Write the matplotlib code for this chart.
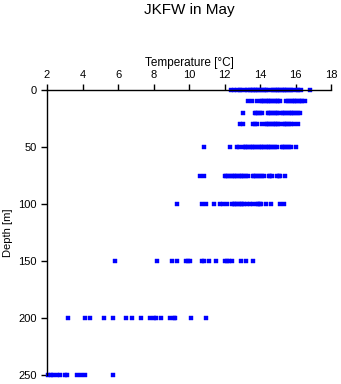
import matplotlib
matplotlib.use("Agg")
import matplotlib.pyplot as plt

# Depth levels [m]
depths = [0, 10, 20, 30, 50, 75, 100, 150, 200, 250]

# Temperatures [°C] observed at each depth
temps_0m = [12.38, 12.52, 12.72, 12.85, 12.95, 13.13, 13.24, 13.42, 13.52, 13.61, 13.70,
            13.80, 13.90, 14.00, 14.10, 14.20, 14.31, 14.42, 14.63, 14.73, 14.83, 14.93,
            15.03, 15.13, 15.23, 15.33, 15.43, 15.53, 15.63, 15.73, 15.88, 16.08, 16.16,
            16.32, 16.82]
temps_10m = [13.30, 13.53, 13.81, 14.03, 14.13, 14.23, 14.33, 14.43, 14.53, 14.63, 14.73,
             14.83, 14.93, 15.03, 15.14, 15.49, 15.59, 15.69, 15.79, 15.89, 15.99, 16.09,
             16.19, 16.29, 16.39, 16.54]
temps_20m = [13.03, 13.70, 13.80, 13.90, 14.00, 14.12, 14.43, 14.53, 14.63, 14.73, 14.83,
             14.93, 15.04, 15.22, 15.32, 15.42, 15.52, 15.62, 15.72, 15.82, 15.92, 16.02,
             16.12, 16.23]
temps_30m = [12.90, 13.03, 13.59, 13.70, 13.83, 14.09, 14.32, 14.42, 14.52, 14.62, 14.72,
             14.82, 14.92, 15.02, 15.12, 15.33, 15.43, 15.53, 15.63, 15.73, 15.90, 16.12]
temps_50m = [10.82, 12.30, 12.68, 12.81, 13.03, 13.13, 13.23, 13.33, 13.43, 13.53, 13.63,
             13.73, 13.83, 13.93, 14.03, 14.13, 14.23, 14.33, 14.43, 14.53, 14.63, 14.73,
             14.83, 14.93, 15.22, 15.32, 15.42, 15.52, 15.62, 15.73, 16.00]
temps_75m = [10.60, 10.84, 12.01, 12.11, 12.21, 12.31, 12.41, 12.51, 12.61, 12.71, 12.81,
             12.91, 13.01, 13.11, 13.21, 13.33, 13.59, 13.69, 13.79, 13.89, 13.99, 14.09,
             14.23, 14.49, 14.57, 14.68, 14.94, 15.05, 15.13, 15.40]
temps_100m = [9.32, 10.75, 10.93, 11.41, 11.75, 11.91, 12.15, 12.41, 12.51, 12.61, 12.71,
              12.81, 12.91, 13.01, 13.09, 13.29, 13.43, 13.58, 13.81, 13.91, 14.01, 14.08,
              14.33, 14.60, 15.10, 15.34]
temps_150m = [5.82, 8.22, 9.02, 9.30, 9.81, 9.92, 10.03, 10.71, 10.82, 11.10, 11.50, 12.03,
              12.15, 12.28, 12.43, 12.92, 13.21, 13.62]
temps_200m = [3.20, 4.13, 4.42, 5.22, 5.72, 6.44, 6.81, 7.32, 7.79, 8.01, 8.12, 8.42, 8.91,
              9.13, 9.20, 10.09, 10.93]
temps_250m = [2.05, 2.20, 2.35, 2.55, 2.75, 3.00, 3.15, 3.70, 3.90, 4.15, 5.72]

temps_by_depth = [temps_0m, temps_10m, temps_20m, temps_30m, temps_50m, temps_75m,
                  temps_100m, temps_150m, temps_200m, temps_250m]

x_ticks = [2, 4, 6, 8, 10, 12, 14, 16, 18]
y_ticks = [0, 50, 100, 150, 200, 250]

xs, ys = [], []
for d, ts in zip(depths, temps_by_depth):
    xs.extend(ts)
    ys.extend([d] * len(ts))

plt.rcParams['font.family'] = ['Liberation Sans', 'DejaVu Sans']

fig = plt.figure(figsize=(3.41, 3.84), dpi=100)
ax = fig.add_axes([47 / 341, 9 / 384, 284 / 341, 285 / 384])

ax.plot(xs, ys, linestyle='none', marker='s', markersize=2.6,
        markerfacecolor='#0000ff', markeredgecolor='#0000ff', markeredgewidth=0.3,
        antialiased=False, clip_on=False)

ax.set_xlim(2, 18)
ax.set_ylim(250, 0)
ax.set_xticks(x_ticks)
ax.set_yticks(y_ticks)

for s in ['right', 'bottom']:
    ax.spines[s].set_visible(False)
for s in ['top', 'left']:
    ax.spines[s].set_linewidth(1.0)
    ax.spines[s].set_color('black')

ax.xaxis.set_ticks_position('top')
ax.xaxis.set_label_position('top')
ax.tick_params(axis='x', direction='out', length=4.5, width=1, labelsize=8, pad=2.5)
ax.tick_params(axis='y', direction='out', length=4.5, width=1, labelsize=8, pad=3)

ax.set_xlabel('Temperature [°C]', fontsize=8.5, labelpad=3)
ax.set_ylabel('Depth [m]', fontsize=8, labelpad=4)

ax_center = (47 + 331) / 2 / 341
fig.text(ax_center, 0.992, 'JKFW in May', ha='center', va='top', fontsize=11)

fig.savefig('out.png', dpi=100)
